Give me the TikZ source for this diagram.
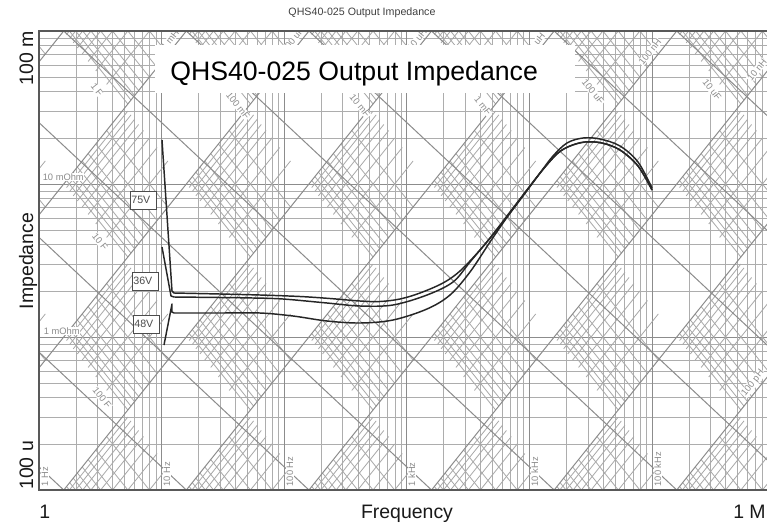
\documentclass[tikz,border=0pt]{standalone}
\usepackage{fontspec}
\setmainfont{Liberation Sans}
\tikzset{
  gminor/.style={draw=black!32, line width=0.6pt},
  gmajor/.style={draw=black!45, line width=0.75pt},
  dminor/.style={draw=black!34, line width=0.6pt},
  dmajor/.style={draw=black!45, line width=0.75pt},
  frame/.style={draw=black!65, line width=1.1pt},
  curve/.style={draw=black!85, line width=1.1pt, line join=round},
  smalllab/.style={font=\fontsize{7}{8}\selectfont, text=black!45, fill=white, inner sep=0.4pt},
  axislab/.style={font=\fontsize{14.6}{16}\selectfont, text=black!90, inner sep=0pt},
  vbox/.style={draw=black!70, line width=0.6pt, fill=white, font=\fontsize{8}{9}\selectfont, text=black!70, inner sep=0.5pt, minimum width=19.5pt, minimum height=13.5pt, text width=17.5pt, align=left}
}
\begin{document}
\begin{tikzpicture}[x=0.75pt,y=-0.75pt]
\useasboundingbox (0,0) rectangle (767,525);
\fill[white] (0,0) rectangle (767,525);
\begin{scope}
\clip (39,31) rectangle (767,490);
% horizontal lines
\foreach \d in {-4,-3,-2} {
  \foreach \k in {2,...,9} {
    \pgfmathsetmacro\yy{31+153*(-1-\d-log10(\k))}
    \draw[gminor] (39,\yy) -- (767,\yy);
  }
  \pgfmathsetmacro\yy{31+153*(-1-\d)}
  \draw[gmajor] (39,\yy) -- (767,\yy);
}
% vertical lines
\foreach \d in {0,...,5} {
  \foreach \k in {2,...,9} {
    \pgfmathsetmacro\xx{39+122.6*(\d+log10(\k))}
    \draw[gminor] (\xx,31) -- (\xx,490);
  }
  \pgfmathsetmacro\xx{39+122.6*\d}
  \draw[gmajor] (\xx,31) -- (\xx,490);
}
% minor diagonal lines, drawn in alternate L/C decade cells
\foreach \i in {-11,...,-2} {
  \foreach \j in {-6,...,3} {
    \pgfmathtruncatemacro\s{\i+\j}
    \ifodd\s\relax\else
      \foreach \k in {2,...,9} {
        \pgfmathsetmacro\cc{\j+log10(\k)}
        \pgfmathsetmacro\xa{39+122.6*(-0.5*(\i+\cc)-0.7982)}
        \pgfmathsetmacro\ya{31+153*(-1-0.5*(\i-\cc))}
        \pgfmathsetmacro\xb{39+122.6*(-0.5*(\i+1+\cc)-0.7982)}
        \pgfmathsetmacro\yb{31+153*(-1-0.5*(\i+1-\cc))}
        \draw[dminor] (\xa,\ya) -- (\xb,\yb);
        \pgfmathsetmacro\ll{\i+log10(\k)}
        \pgfmathsetmacro\xc{39+122.6*(-0.5*(\ll+\j)-0.7982)}
        \pgfmathsetmacro\yc{31+153*(-1-0.5*(\ll-\j))}
        \pgfmathsetmacro\xd{39+122.6*(-0.5*(\ll+\j+1)-0.7982)}
        \pgfmathsetmacro\yd{31+153*(-1-0.5*(\ll-\j-1))}
        \draw[dminor] (\xc,\yc) -- (\xd,\yd);
      }
    \fi
  }
}
% major capacitance lines
\foreach \n in {-6,...,4} {
  \pgfmathsetmacro\xa{39+122.6*(0.2018-\n)}
  \pgfmathsetmacro\xb{39+122.6*(4.2018-\n)}
  \draw[dmajor] (\xa,31) -- (\xb,490);
}
% major inductance lines
\foreach \n in {-11,...,-2} {
  \pgfmathsetmacro\xa{39+122.6*(-4.7982-\n)}
  \pgfmathsetmacro\xb{39+122.6*(-1.7982-\n)}
  \draw[dmajor] (\xa,490) -- (\xb,31);
}
% line labels
\node[smalllab, rotate=-51.3] (c1F) at (97,90) {1 F};
\node[smalllab, rotate=-51.3] (c10F) at (100,242) {10 F};
\node[smalllab, rotate=-51.3] (c100F) at (102,398) {100 F};
\node[smalllab, rotate=-51.3] (c100mF) at (238,106) {100 mF};
\node[smalllab, rotate=-51.3] (c10mF) at (360,106) {10 mF};
\node[smalllab, rotate=-51.3] (c1mF) at (483,106) {1 mF};
\node[smalllab, rotate=-51.3] (c100uF) at (593,92) {100 uF};
\node[smalllab, rotate=-51.3] (c10uF) at (712,90) {10 uF};
\node[smalllab, rotate=51.3] (l1mH) at (170,40) {1 mH};
\node[smalllab, rotate=51.3] (l100uH) at (293,40) {100 uH};
\node[smalllab, rotate=51.3] (l10uH) at (417,40) {10 uH};
\node[smalllab, rotate=51.3] (l1uH) at (537,42) {1 uH};
\node[smalllab, rotate=51.3] (l100nH) at (650,52) {100 nH};
\node[smalllab, rotate=51.3] (l10nH) at (757,70) {10 nH};
\node[smalllab, rotate=51.3] (l100pH) at (753,383) {100 pH};
\node[smalllab, anchor=base west] (z10m) at (42,180) {10 mOhm};
\node[smalllab, anchor=base west] (z1m) at (43,334) {1 mOhm};
\node[smalllab, rotate=90, anchor=base west] (f1) at (48,487) {1 Hz};
\node[smalllab, rotate=90, anchor=base west] (f10) at (170,487) {10 Hz};
\node[smalllab, rotate=90, anchor=base west] (f100) at (293,487) {100 Hz};
\node[smalllab, rotate=90, anchor=base west] (f1k) at (415,487) {1 kHz};
\node[smalllab, rotate=90, anchor=base west] (f10k) at (538,487) {10 kHz};
\node[smalllab, rotate=90, anchor=base west] (f100k) at (661,487) {100 kHz};
% curves
\draw[curve] (162,140) -- (172,291) -- plot[smooth, tension=0.55] coordinates {(174,293) (220,294) (260,295) (300,296.5) (330,298.5) (360,301) (380,301.5) (400,299) (420,293) (443,283) (460,271) (480,250) (500,226) (520,200) (540,173) (553,156) (567,143) (583,138) (600,139) (620,146) (638,162) (652,188)};
\draw[curve] (162,247) -- (171,296) -- plot[smooth, tension=0.55] coordinates {(174,297) (220,297.5) (253,298) (283,299) (327,303) (360,306) (393,305) (427,295) (453,282) (470,262) (490,238) (510,212) (530,186) (545,167) (558,153) (570,146) (585,142) (602,143) (620,150) (638,166) (652,190)};
\draw[curve] (164,345) -- (172,304) -- (172,312) -- plot[smooth, tension=0.55] coordinates {(174,313) (220,313) (260,313) (293,316) (327,321) (360,323) (393,320) (427,309) (450,295) (470,272) (490,242) (510,213) (530,186) (545,167) (558,153) (570,146) (585,142) (602,143) (620,150) (638,166) (652,190)};
\end{scope}
% frame
\draw[frame] (767,31) -- (39,31) -- (39,490) -- (767,490);
% title box
\fill[white] (155,45) rectangle (575,93);
\node[anchor=base west, font=\fontsize{20}{24}\selectfont, inner sep=0pt] (bigtitle) at (170,80) {QHS40-025 Output Impedance};
\node[font=\fontsize{8}{9}\selectfont, text=black!75, inner sep=0pt] (smalltitle) at (362,13) {QHS40-025 Output Impedance};
% voltage labels
\node[vbox] (v75) at (143,200) {75V};
\node[vbox] (v36) at (145,281) {36V};
\node[vbox] (v48) at (146,324) {48V};
% axis labels
\node[axislab, rotate=90, anchor=base east] (ytop) at (33,31) {100 m};
\node[axislab, rotate=90, anchor=base west] (ybot) at (33,490) {100 u};
\node[axislab, rotate=90, anchor=base] (ylab) at (33,261) {Impedance};
\node[axislab, anchor=base] (xlab) at (407,518) {Frequency};
\node[axislab, anchor=base west] (xleft) at (39,518) {1};
\node[axislab, anchor=base west] (xright) at (733,518) {1 M};
\end{tikzpicture}
\end{document}
